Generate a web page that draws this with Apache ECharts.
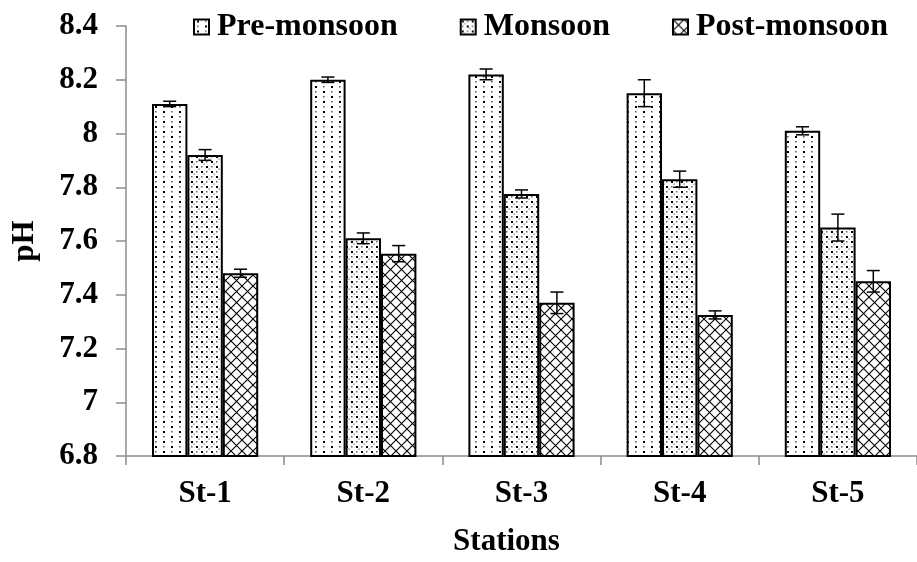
<!DOCTYPE html>
<html>
<head>
<meta charset="utf-8">
<script src="https://cdn.jsdelivr.net/npm/echarts@6/dist/echarts.min.js"></script>
<style>
html,body{margin:0;padding:0;background:#fff;}
#chart{width:917px;height:562px;}
</style>
</head>
<body>
<div id="chart"></div>
<script>
// ---- data ----
const categories = ['St-1', 'St-2', 'St-3', 'St-4', 'St-5'];
const seriesNames = ['Pre-monsoon', 'Monsoon', 'Post-monsoon'];
const preMonsoon = [8.11, 8.20, 8.22, 8.15, 8.01];
const monsoon = [7.92, 7.61, 7.775, 7.83, 7.65];
const postMonsoon = [7.48, 7.553, 7.37, 7.325, 7.45];
const preErr = [0.01, 0.01, 0.02, 0.05, 0.015];
const monErr = [0.02, 0.02, 0.015, 0.03, 0.05];
const postErr = [0.015, 0.03, 0.04, 0.015, 0.04];
const yMin = 6.8, yMax = 8.4, yStep = 0.2;

// ---- patterns ----
function makeCanvas(w, h) {
  const c = document.createElement('canvas');
  c.width = w; c.height = h;
  const ctx = c.getContext('2d');
  ctx.fillStyle = '#fff';
  ctx.fillRect(0, 0, w, h);
  return [c, ctx];
}
function prePattern() {
  const [c, ctx] = makeCanvas(16, 10);
  ctx.fillStyle = '#000';
  ctx.fillRect(3, 1, 2, 2);
  ctx.fillStyle = '#555';
  ctx.fillRect(11, 1, 1.5, 1.5);
  ctx.fillRect(3, 6, 1.5, 1.5);
  ctx.fillStyle = '#000';
  ctx.fillRect(11, 6, 2, 2);
  return c;
}
function monPattern() {
  const [c, ctx] = makeCanvas(10, 10);
  ctx.fillStyle = '#000';
  ctx.fillRect(1, 1, 2, 2);
  ctx.fillRect(6, 6, 2, 2);
  ctx.fillStyle = '#666';
  ctx.fillRect(6, 1, 1.5, 1.5);
  ctx.fillRect(1, 6, 1.5, 1.5);
  ctx.fillRect(3.5, 3.5, 1.2, 1.2);
  ctx.fillRect(8.5, 8.5, 1.2, 1.2);
  return c;
}
function postPattern() {
  const s = 11;
  const [c, ctx] = makeCanvas(s, s);
  ctx.strokeStyle = '#000';
  ctx.lineWidth = 1.1;
  ctx.beginPath();
  ctx.moveTo(-1, -1); ctx.lineTo(s + 1, s + 1);
  ctx.moveTo(s + 1, -1); ctx.lineTo(-1, s + 1);
  ctx.stroke();
  return c;
}
const patterns = [prePattern(), monPattern(), postPattern()];

const values = [preMonsoon, monsoon, postMonsoon];
const errors = [preErr, monErr, postErr];
const barW = 35.4;
const font = 'Liberation Serif';

const series = [];
values.forEach((vals, si) => {
  series.push({
    name: seriesNames[si],
    type: 'bar',
    data: vals,
    barWidth: barW,
    barGap: '0%',
    itemStyle: {
      color: { image: patterns[si], repeat: 'repeat' },
      borderColor: '#000',
      borderWidth: 2
    },
    emphasis: { disabled: true }
  });
});
values.forEach((vals, si) => {
  series.push({
    type: 'custom',
    name: seriesNames[si] + ' err',
    z: 5,
    data: vals.map((v, i) => [i, v, errors[si][i]]),
    renderItem: function (params, api) {
      const idx = api.value(0), v = api.value(1), e = api.value(2);
      const off = (si - 1) * barW;
      const x = api.coord([idx, v])[0] + off;
      const yHi = api.coord([idx, v + e])[1];
      const yLo = api.coord([idx, v - e])[1];
      const hw = 6.5;
      const st = { stroke: '#000', lineWidth: 1.5 };
      return {
        type: 'group',
        children: [
          { type: 'line', shape: { x1: x, y1: yHi, x2: x, y2: yLo }, style: st },
          { type: 'line', shape: { x1: x - hw, y1: yHi, x2: x + hw, y2: yHi }, style: st },
          { type: 'line', shape: { x1: x - hw, y1: yLo, x2: x + hw, y2: yLo }, style: st }
        ]
      };
    }
  });
});

const chart = echarts.init(document.getElementById('chart'));
chart.setOption({
  animation: false,
  backgroundColor: '#fff',
  textStyle: { fontFamily: font },
  legend: {
    data: seriesNames,
    left: 193,
    top: 11,
    padding: 0,
    itemWidth: 15,
    itemHeight: 15,
    itemGap: 62,
    icon: 'rect',
    selectedMode: false,
    textStyle: { fontFamily: font, fontWeight: 'bold', fontSize: 32, color: '#000', padding: [0, 0, 0, 3] }
  },
  grid: { left: 126, right: -10, top: 26, bottom: 98, containLabel: false },
  xAxis: {
    type: 'category',
    data: categories,
    name: 'Stations',
    nameLocation: 'middle',
    nameGap: 70,
    nameTextStyle: { fontFamily: font, fontWeight: 'bold', fontSize: 31, color: '#000', padding: [0, 30, 0, 0] },
    axisLine: { lineStyle: { color: '#8c8c8c', width: 1.5 } },
    axisTick: { show: true, length: 9, lineStyle: { color: '#8c8c8c', width: 1.5 } },
    axisLabel: { fontFamily: font, fontWeight: 'bold', fontSize: 31, color: '#000', margin: 22 }
  },
  yAxis: {
    type: 'value',
    min: yMin,
    max: yMax,
    interval: yStep,
    name: 'pH',
    nameLocation: 'middle',
    nameGap: 86,
    nameRotate: 90,
    nameTextStyle: { fontFamily: font, fontWeight: 'bold', fontSize: 31, color: '#000' },
    axisLine: { show: true, lineStyle: { color: '#8c8c8c', width: 1.5 } },
    axisTick: { show: true, length: 10, lineStyle: { color: '#8c8c8c', width: 1.5 } },
    splitLine: { show: false },
    axisLabel: {
      fontFamily: font, fontWeight: 'bold', fontSize: 31, color: '#000', margin: 28,
      formatter: function (v) { return String(Math.round(v * 10) / 10); }
    }
  },
  series: series
});
</script>
</body>
</html>
